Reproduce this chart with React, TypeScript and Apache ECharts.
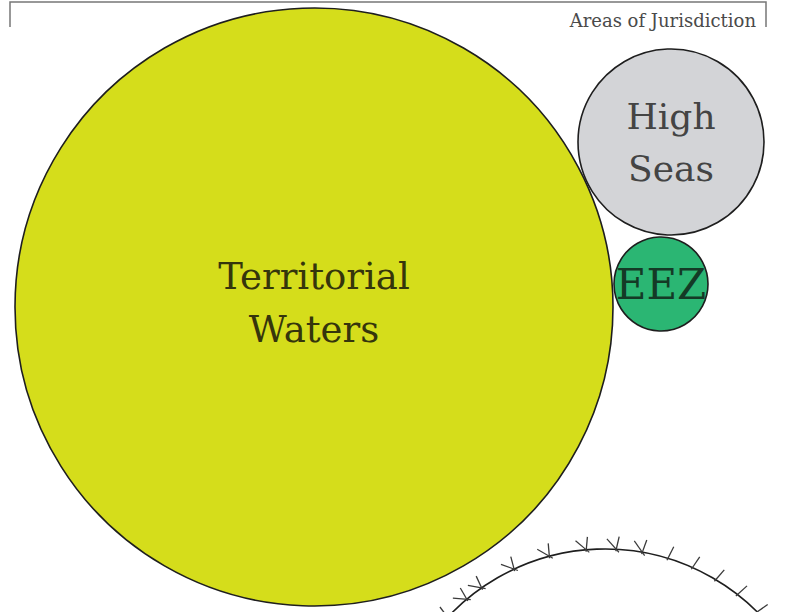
import React, { useEffect, useRef } from "react";
import * as echarts from "echarts";

// Circles: centre x, centre y, radius (in page units)
const circleNames = ["Territorial Waters", "High Seas", "EEZ", "Other"];
const circleX = [314, 671, 661, 605];
const circleY = [307, 142, 284, 764];
const circleR = [299, 93, 47, 215];
const circleLabels = ["Territorial\nWaters", "High\nSeas", "EEZ", ""];
const circleFills = ["#d5dd1b", "#d3d4d7", "#2bb673", "#ffffff"];
const labelColors = ["#35350c", "#444444", "#143a26", "#333"];
const labelSizes = [37, 36, 42, 20];
const labelLineHeights = [53, 52, 44, 20];

// Tick marks on the lower circle: angle (degrees, clockwise from top)
const tickAngles = [-47, -40, -35, -25, -15, -5, 3, 10, 17, 24, 31, 38, 45];

const titleText = "Areas of Jurisdiction";

export default function App() {
  const ref = useRef<HTMLDivElement>(null);
  useEffect(() => {
    if (!ref.current) return;
    const chart = echarts.init(ref.current, null, { renderer: "svg" });
    const circleData = circleNames.map((n, i) => ({
      name: n,
      value: [circleX[i], circleY[i], circleR[i], i],
    }));
    const tickData = tickAngles.map((a) => ({ value: [a] }));
    const option: any = {
      animation: false,
      backgroundColor: "#ffffff",
      title: {
        text: titleText,
        right: 47,
        top: 6,
        textStyle: {
          fontFamily: "DejaVu Serif",
          fontSize: 18,
          fontWeight: "normal",
          color: "#4a4a4a",
        },
      },
      grid: { left: 0, right: 0, top: 0, bottom: 0 },
      xAxis: { type: "value", min: 0, max: 808, show: false },
      yAxis: { type: "value", min: 0, max: 612, inverse: true, show: false },
      graphic: [
        {
          type: "polyline",
          shape: { points: [[10, 27], [10, 2], [766, 2], [766, 27]] },
          style: { stroke: "#777", lineWidth: 1.5, fill: "none" },
          z: 10,
        },
      ],
      series: [
        {
          type: "custom",
          coordinateSystem: "cartesian2d",
          clip: false,
          data: circleData,
          renderItem: (params: any, api: any) => {
            const idx = api.value(3);
            const c = api.coord([api.value(0), api.value(1)]);
            const r = api.size([api.value(2), 0])[0];
            const children: any[] = [
              {
                type: "circle",
                shape: { cx: c[0], cy: c[1], r },
                style: { fill: circleFills[idx], stroke: "#1e1e1e", lineWidth: 1.6 },
              },
            ];
            if (circleLabels[idx]) {
              children.push({
                type: "text",
                style: {
                  text: circleLabels[idx],
                  x: c[0],
                  y: c[1] - (idx === 0 ? 4 : 0),
                  align: "center",
                  verticalAlign: "middle",
                  fontFamily: "DejaVu Serif",
                  fontSize: labelSizes[idx],
                  lineHeight: labelLineHeights[idx],
                  fill: labelColors[idx],
                },
              });
            }
            return { type: "group", children };
          },
        },
        {
          type: "custom",
          coordinateSystem: "cartesian2d",
          clip: false,
          data: tickData,
          z: 3,
          renderItem: (params: any, api: any) => {
            const a = (api.value(0) * Math.PI) / 180;
            const c = api.coord([circleX[3], circleY[3]]);
            const r = api.size([circleR[3], 0])[0];
            const ux = Math.sin(a);
            const uy = -Math.cos(a);
            const bx = c[0] + r * ux;
            const by = c[1] + r * uy;
            const rot = (vx: number, vy: number, d: number) => {
              const t = (d * Math.PI) / 180;
              return [vx * Math.cos(t) - vy * Math.sin(t), vx * Math.sin(t) + vy * Math.cos(t)];
            };
            const children: any[] = [];
            const [m1x, m1y] = rot(ux, uy, 10);
            children.push({
              type: "line",
              shape: { x1: bx - m1x * 2, y1: by - m1y * 2, x2: bx + m1x * 13, y2: by + m1y * 13 },
              style: { stroke: "#3a3a3a", lineWidth: 1.3 },
            });
            if (api.value(0) < 12) {
              const [m2x, m2y] = rot(ux, uy, -45);
              children.push({
                type: "line",
                shape: { x1: bx - m2x * 4, y1: by - m2y * 4, x2: bx + m2x * 14, y2: by + m2y * 14 },
                style: { stroke: "#3a3a3a", lineWidth: 1.2 },
              });
            }
            return { type: "group", children };
          },
        },
      ],
    };
    chart.setOption(option);
    return () => chart.dispose();
  }, []);
  return (
    <div
      ref={ref}
      style={{ position: "absolute", left: 0, top: 0, width: 808, height: 612 }}
    />
  );
}
